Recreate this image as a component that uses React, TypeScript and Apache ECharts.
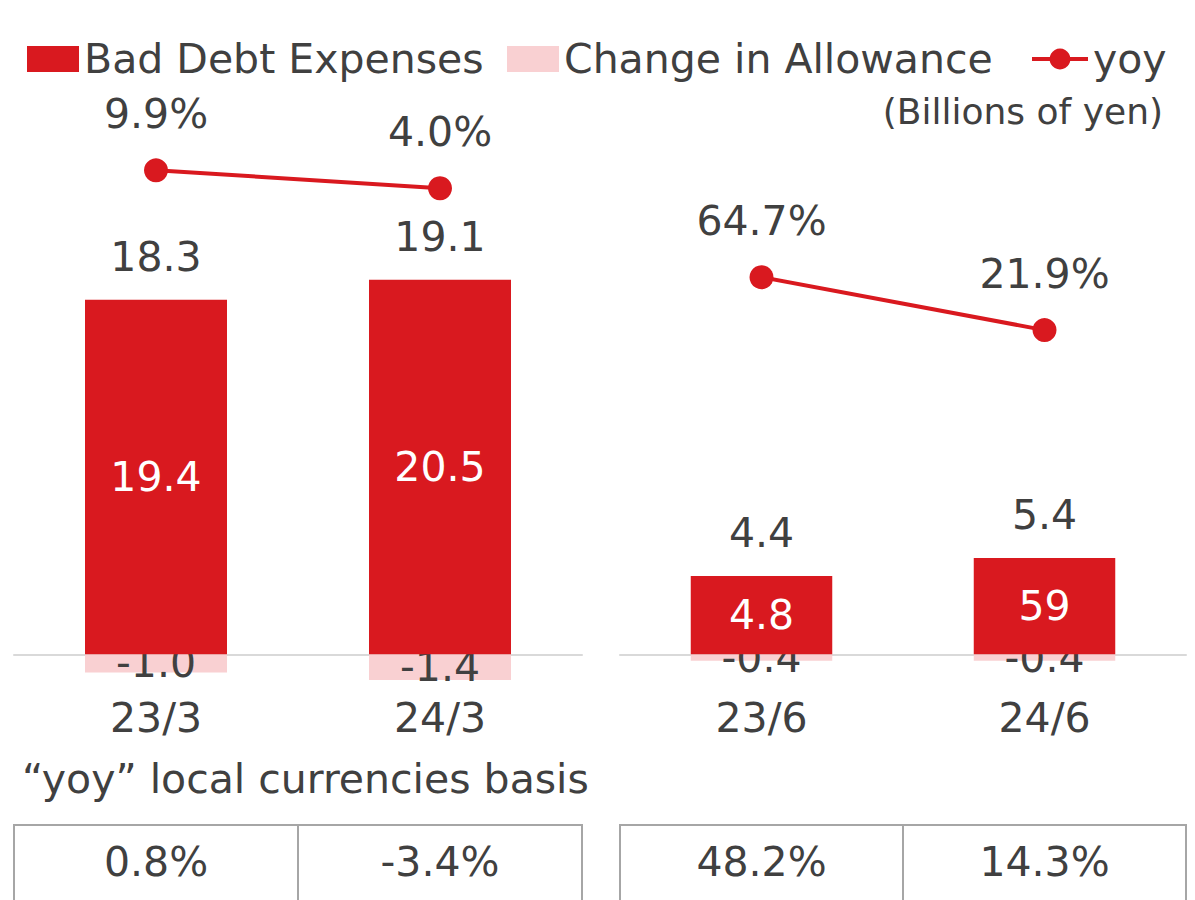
import React, { useEffect, useRef } from "react";
import * as echarts from "echarts";

const leftCategories = ["23/3", "24/3"];
const rightCategories = ["23/6", "24/6"];
const leftBadDebt = [19.4, 20.5];
const rightBadDebt = [4.8, 5.9];
const leftBadDebtLabels = ["19.4", "20.5"];
const rightBadDebtLabels = ["4.8", "59"];
const leftAllowance = [-1.0, -1.4];
const rightAllowance = [-0.4, -0.4];
const leftTotals = ["18.3", "19.1"];
const rightTotals = ["4.4", "5.4"];
const leftYoy = [9.9, 4.0];
const rightYoy = [64.7, 21.9];
const leftLocalYoy = ["0.8%", "-3.4%"];
const rightLocalYoy = ["48.2%", "14.3%"];

const RED = "#d9191f";
const PINK = "#f9d0d2";
const TEXT = "#404040";
const FONT = "DejaVu Sans";
const FS = 41;

export default function App() {
  const ref = useRef<HTMLDivElement>(null);
  useEffect(() => {
    if (!ref.current) return;
    const chart = echarts.init(ref.current, undefined, { renderer: "svg" });

    const grids = [
      { left: 14, width: 568, top: 106, height: 594 },
      { left: 620, width: 566, top: 106, height: 594 },
    ];

    const xAxisBase = (gi: number, cats: string[], yIdx: number) => ({
      type: "category",
      gridIndex: gi,
      data: cats,
      axisLine: { show: true, onZero: true, onZeroAxisIndex: yIdx, lineStyle: { color: "#d9d9d9", width: 2 } },
      axisTick: { show: false },
      axisLabel: { color: TEXT, fontSize: FS, fontFamily: FONT, margin: -3 },
      splitLine: { show: false },
    });

    const yAxisBase = (gi: number, min: number, max: number) => ({
      type: "value",
      gridIndex: gi,
      min,
      max,
      show: false,
      splitLine: { show: false },
    });

    const panelSeries = (
      xi: number,
      yPrim: number,
      ySec: number,
      bad: number[],
      badLabels: string[],
      allow: number[],
      totals: string[],
      yoy: number[],
      stack: string
    ) => [
      {
        name: "Bad Debt Expenses",
        type: "bar",
        xAxisIndex: xi,
        yAxisIndex: yPrim,
        stack,
        barWidth: "50%",
        data: bad,
        itemStyle: { color: RED },
        label: {
          show: true,
          position: "inside",
          color: "#ffffff",
          fontSize: FS,
          fontFamily: FONT,
          formatter: (p: any) => badLabels[p.dataIndex],
        },
        z: 2,
      },
      {
        name: "Change in Allowance",
        type: "bar",
        xAxisIndex: xi,
        yAxisIndex: yPrim,
        stack,
        barWidth: "50%",
        data: allow,
        itemStyle: { color: PINK },
        label: {
          show: true,
          position: "inside",
          color: TEXT,
          fontSize: FS,
          fontFamily: FONT,
          formatter: (p: any) => p.value.toFixed(1),
        },
        z: 1,
      },
      {
        name: "Total",
        type: "scatter",
        xAxisIndex: xi,
        yAxisIndex: yPrim,
        data: bad,
        symbolSize: 1,
        itemStyle: { color: "rgba(0,0,0,0)", opacity: 1 },
        label: {
          show: true,
          position: "top",
          distance: 22,
          color: TEXT,
          fontSize: FS,
          fontFamily: FONT,
          formatter: (p: any) => totals[p.dataIndex],
        },
        z: 3,
      },
      {
        name: "yoy",
        type: "line",
        xAxisIndex: xi,
        yAxisIndex: ySec,
        data: yoy,
        symbol: "circle",
        symbolSize: 24,
        lineStyle: { color: RED, width: 4 },
        itemStyle: { color: RED },
        label: {
          show: true,
          position: "top",
          distance: 24,
          color: TEXT,
          fontSize: FS,
          fontFamily: FONT,
          formatter: (p: any) => p.value.toFixed(1) + "%",
        },
        z: 5,
      },
    ];

    const tableTop = 825;
    const tableH = 90;
    const tableGraphics: any[] = [];
    const addTable = (g: any, vals: string[]) => {
      const cw = g.width / vals.length;
      tableGraphics.push({
        type: "rect",
        shape: { x: g.left, y: tableTop, width: g.width, height: tableH },
        style: { fill: "none", stroke: "#a6a6a6", lineWidth: 2 },
      });
      for (let i = 1; i < vals.length; i++) {
        tableGraphics.push({
          type: "line",
          shape: { x1: g.left + cw * i, y1: tableTop, x2: g.left + cw * i, y2: tableTop + tableH },
          style: { stroke: "#a6a6a6", lineWidth: 2 },
        });
      }
      vals.forEach((v, i) => {
        tableGraphics.push({
          type: "text",
          x: g.left + cw * (i + 0.5),
          y: 862,
          style: {
            text: v,
            fill: TEXT,
            font: `${FS}px "${FONT}"`,
            align: "center",
            verticalAlign: "middle",
          },
        });
      });
    };
    addTable(grids[0], leftLocalYoy);
    addTable(grids[1], rightLocalYoy);

    const legendCommon = {
      top: 37,
      padding: 0,
      itemHeight: 26,
      textStyle: { color: TEXT, fontSize: FS, fontFamily: FONT, lineHeight: 44 },
      selectedMode: false,
    };

    const option: any = {
      animation: false,
      backgroundColor: "#ffffff",
      textStyle: { fontFamily: FONT },
      legend: [
        { ...legendCommon, left: 27, itemWidth: 52, data: [{ name: "Bad Debt Expenses", icon: "rect" }] },
        { ...legendCommon, left: 507, itemWidth: 52, data: [{ name: "Change in Allowance", icon: "rect" }] },
        {
          ...legendCommon,
          left: 1030,
          itemWidth: 56,
          lineStyle: { width: 4 },
          data: [{ name: "yoy", lineStyle: { width: 4 } }],
        },
      ],
      grid: grids,
      xAxis: [xAxisBase(0, leftCategories, 0), xAxisBase(1, rightCategories, 2)],
      yAxis: [
        yAxisBase(0, -2.5, 30),
        yAxisBase(0, -164, 31),
        yAxisBase(1, -2.8, 33.6),
        yAxisBase(1, -277, 203),
      ],
      series: [
        ...panelSeries(0, 0, 1, leftBadDebt, leftBadDebtLabels, leftAllowance, leftTotals, leftYoy, "left"),
        ...panelSeries(1, 2, 3, rightBadDebt, rightBadDebtLabels, rightAllowance, rightTotals, rightYoy, "right"),
      ],
      graphic: [
        {
          type: "text",
          right: 32,
          top: 93,
          style: { text: "(Billions of yen)", fill: TEXT, font: `36px "${FONT}"` },
        },
        {
          type: "text",
          left: 22,
          top: 758,
          style: { text: "\u201Cyoy\u201D local currencies basis", fill: TEXT, font: `${FS}px "${FONT}"` },
        },
        ...tableGraphics,
      ],
    };
    chart.setOption(option);
    return () => chart.dispose();
  }, []);

  return (
    <div
      ref={ref}
      style={{ position: "absolute", left: 0, top: 0, width: 1195, height: 900, background: "#fff" }}
    />
  );
}
